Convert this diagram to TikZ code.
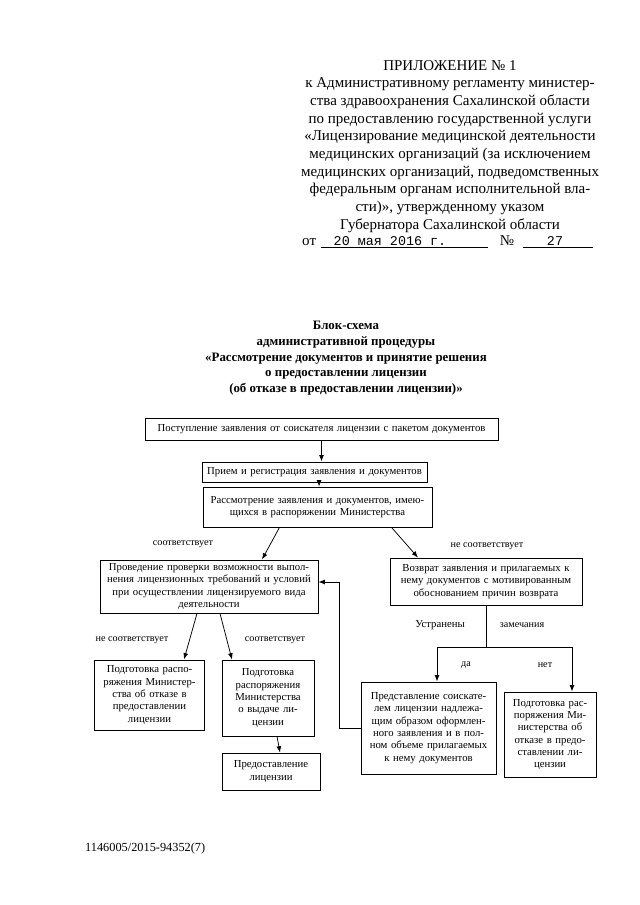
\documentclass[tikz,border=0pt]{standalone}
\usepackage{fontspec}
\setmainfont{Liberation Serif}
\setmonofont{Liberation Mono}
\usetikzlibrary{positioning,arrows.meta,calc}

\begin{document}
\begin{tikzpicture}[
  x=0.328mm, y=-0.328mm, >={Latex[length=6pt,width=4.5pt]},
  blk/.style={draw, line width=0.8pt, align=center, inner sep=1pt, font=\fontsize{10}{11.5}\selectfont},
  lbl/.style={font=\fontsize{9.5}{11}\selectfont},
  conn/.style={->, line width=0.7pt},
  hdr/.style={align=center, inner sep=0pt, anchor=north, font=\fontsize{14}{16.5}\selectfont},
]
\useasboundingbox (0,0) rectangle (640,905);

% шапка приложения
\node[hdr] (head) at (450,60) {ПРИЛОЖЕНИЕ № 1\\к Административному регламенту министер-\\ства здравоохранения Сахалинской области\\по предоставлению государственной услуги\\«Лицензирование медицинской деятельности\\медицинских организаций (за исключением\\медицинских организаций, подведомственных\\федеральным органам исполнительной вла-};
\node[hdr, below=3.5pt of head] (decree) {сти)», утвержденному указом\\Губернатора Сахалинской области};
\node[anchor=base west, inner sep=0pt, font=\fontsize{14}{16}\selectfont] (ot) at (302,245) {от};
\node[anchor=base, inner sep=0pt, font=\ttfamily\fontsize{12.5}{14}\selectfont] (date) at (390,245) {20 мая 2016 г.};
\node[anchor=base, inner sep=0pt, font=\fontsize{14}{16}\selectfont] (numsign) at (507,245) {№};
\node[anchor=base, inner sep=0pt, font=\ttfamily\fontsize{12.5}{14}\selectfont] (num) at (555,245) {27};
\draw[line width=0.6pt] (321,247) -- (488,247);
\draw[line width=0.6pt] (523,247) -- (593,247);

% заголовок
\node[align=center, anchor=north, inner sep=0pt, font=\bfseries\fontsize{12}{14.7}\selectfont] (title) at (346,321)
  {Блок-схема\\административной процедуры\\«Рассмотрение документов и принятие решения\\о предоставлении лицензии\\(об отказе в предоставлении лицензии)»};

% блоки
\node[blk, text width=115.1mm, minimum height=7.2mm] (recv) at (321.5,429) {Поступление заявления от соискателя лицензии с пакетом документов};
\node[blk, text width=73.1mm, minimum height=6.6mm] (reg) at (314.5,472) {Прием и регистрация заявления и документов};
\node[blk, text width=74.4mm, minimum height=13.1mm] (review) at (317.5,507) {Рассмотрение заявления и документов, имею-\\щихся в распоряжении Министерства};
\node[blk, text width=70.8mm, minimum height=17.4mm] (check) at (209,586.5) {Проведение проверки возможности выпол-\\нения лицензионных требований и условий\\при осуществлении лицензируемого вида\\деятельности};
\node[blk, text width=62.3mm, minimum height=15.4mm] (ret) at (486,581.5) {Возврат заявления и прилагаемых к\\нему документов с мотивированным\\обоснованием причин возврата};
\node[blk, text width=35.1mm, minimum height=23mm] (refuse) at (149.5,695) {Подготовка распо-\\ряжения Министер-\\ства об отказе в\\предоставлении\\лицензии};
\node[blk, text width=29.5mm, minimum height=24.9mm] (issue) at (268,698) {Подготовка\\распоряжения\\Министерства\\о выдаче ли-\\цензии};
\node[blk, text width=31.4mm, minimum height=12.1mm] (grant) at (271,771.5) {Предоставление\\лицензии};
\node[blk, text width=43.6mm, minimum height=30.2mm] (resub) at (428.5,728) {Представление соискате-\\лем лицензии надлежа-\\щим образом оформлен-\\ного заявления и в пол-\\ном объеме прилагаемых\\к нему документов};
\node[blk, text width=29.5mm, minimum height=27.9mm] (refusetwo) at (550,734.5) {Подготовка рас-\\поряжения Ми-\\нистерства об\\отказе в предо-\\ставлении ли-\\цензии};

% стрелки
\draw[conn] (recv.south) -- (recv.south |- reg.north);
\draw[conn] ([xshift=1.5mm]reg.south) -- ([xshift=1.5mm]reg.south |- review.north);
\draw[conn] ($(review.south)+(-38,0)$) -- ($(check.north)+(53,0)$);
\draw[conn] ($(review.south)+(74,0)$) -- ($(ret.north)+(-68,0)$);
\draw[conn] ($(check.south)+(-12,0)$) -- ($(refuse.north)+(34.5,0)$);
\draw[conn] ($(check.south)+(11,0)$) -- ($(issue.north)+(-36,0)$);
\draw[conn] ($(issue.south)+(9,0)$) -- ($(grant.north)+(9,0)$);
\coordinate (fork) at (486,647);
\draw[line width=0.7pt] (ret.south) -- (fork);
\draw[conn] (fork) -| ($(resub.north)+(8.5,0)$);
\draw[conn] (fork) -| ($(refusetwo.north)+(22,0)$);
\draw[conn] (resub.west) -- ++(-21,0) |- ($(check.east)+(0,-4.5)$);

% подписи
\node[lbl] (yes1) at (183,544) {соответствует};
\node[lbl] (no1) at (487,546) {не соответствует};
\node[lbl] (no2) at (132,640) {не соответствует};
\node[lbl] (yes2) at (275,640) {соответствует};
\node[lbl, font=\fontsize{10}{12}\selectfont] (fixed) at (440,625) {Устранены};
\node[lbl] (remarks) at (522,625) {замечания};
\node[lbl] (da) at (466,665) {да};
\node[lbl] (net) at (545,665) {нет};

\node[anchor=base west, inner sep=0pt, font=\fontsize{11.5}{13}\selectfont] (regno) at (85,851) {1146005/2015-94352(7)};
\end{tikzpicture}
\end{document}
